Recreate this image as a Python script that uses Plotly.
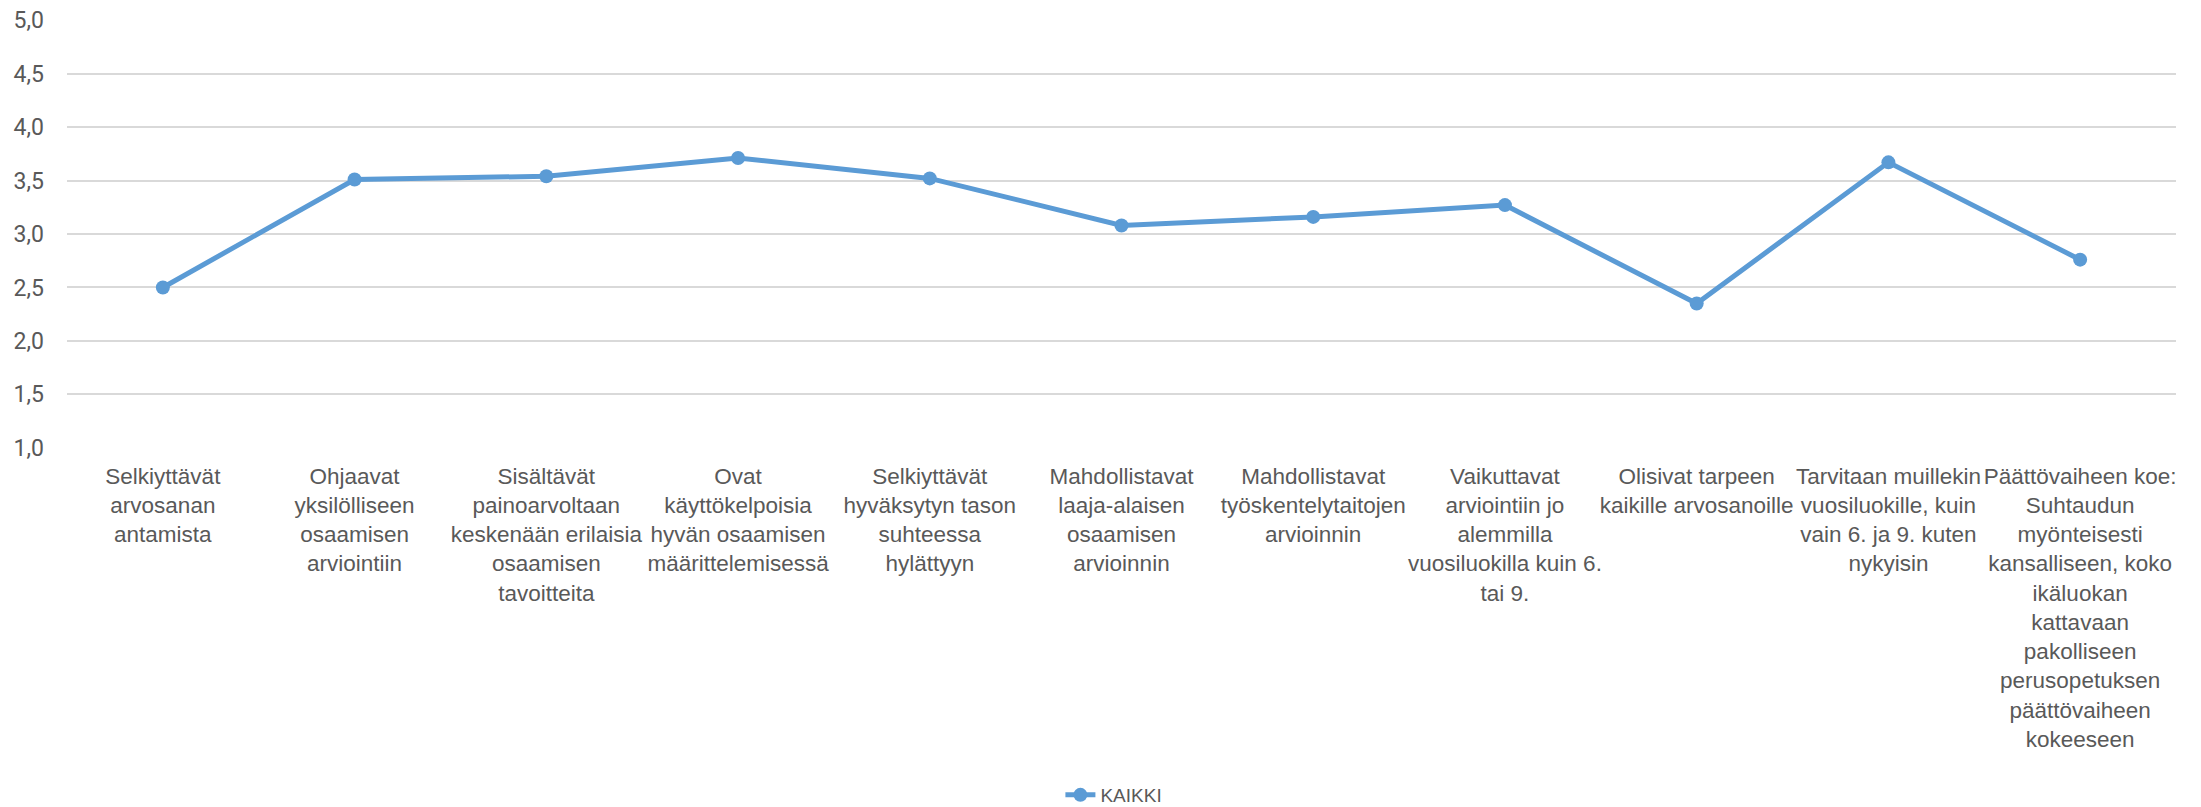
import plotly.graph_objects as go

categories = [
    "Selkiyttävät<br>arvosanan<br>antamista",
    "Ohjaavat<br>yksilölliseen<br>osaamisen<br>arviointiin",
    "Sisältävät<br>painoarvoltaan<br>keskenään erilaisia<br>osaamisen<br>tavoitteita",
    "Ovat<br>käyttökelpoisia<br>hyvän osaamisen<br>määrittelemisessä",
    "Selkiyttävät<br>hyväksytyn tason<br>suhteessa<br>hylättyyn",
    "Mahdollistavat<br>laaja-alaisen<br>osaamisen<br>arvioinnin",
    "Mahdollistavat<br>työskentelytaitojen<br>arvioinnin",
    "Vaikuttavat<br>arviointiin jo<br>alemmilla<br>vuosiluokilla kuin 6.<br>tai 9.",
    "Olisivat tarpeen<br>kaikille arvosanoille",
    "Tarvitaan muillekin<br>vuosiluokille, kuin<br>vain 6. ja 9. kuten<br>nykyisin",
    "Päättövaiheen koe:<br>Suhtaudun<br>myönteisesti<br>kansalliseen, koko<br>ikäluokan<br>kattavaan<br>pakolliseen<br>perusopetuksen<br>päättövaiheen<br>kokeeseen",
]
kaikki = [2.50, 3.51, 3.54, 3.71, 3.52, 3.08, 3.16, 3.27, 2.35, 3.67, 2.76]
series_name = "KAIKKI"
y_ticks = [1.0, 1.5, 2.0, 2.5, 3.0, 3.5, 4.0, 4.5, 5.0]

fig = go.Figure()
fig.add_trace(go.Scatter(
    x=list(range(len(categories))), y=kaikki, name=series_name,
    mode="lines+markers",
    line=dict(color="#5B9BD5", width=5),
    marker=dict(color="#5B9BD5", size=14),
    showlegend=True,
))

fig.update_layout(
    width=2201, height=807,
    margin=dict(l=67, r=25, t=20, b=359, autoexpand=False),
    paper_bgcolor="white", plot_bgcolor="white",
    separators=", ",
    font=dict(family="Liberation Sans, sans-serif", color="#595959"),
    xaxis=dict(
        range=[-0.5, len(categories) - 0.5],
        tickvals=list(range(len(categories))), ticktext=categories,
        tickangle=0, showgrid=False, zeroline=False, showline=False,
        ticks="", ticklabelstandoff=12, automargin=False,
        tickfont=dict(family="Liberation Sans, sans-serif", size=22.5, color="#595959"),
    ),
    yaxis=dict(
        range=[0.999, 5.001], tickmode="array", tickvals=y_ticks, tickformat=".1f",
        showgrid=True, gridcolor="#D9D9D9", gridwidth=1.5,
        zeroline=False, showline=False, ticks="", ticklabelstandoff=22,
        automargin=False,
        tickfont=dict(family="Roboto, sans-serif", size=23, color="#595959"),
    ),
    legend=dict(
        orientation="h", x=0.4964, xanchor="center",
        yref="container", y=0.0149, yanchor="middle",
        font=dict(family="Liberation Sans, sans-serif", size=19, color="#595959"),
    ),
)

fig.write_html(
    "out.html",
    config={"displayModeBar": False},
    post_script="document.body.style.margin='0';document.body.style.overflow='hidden';",
)
